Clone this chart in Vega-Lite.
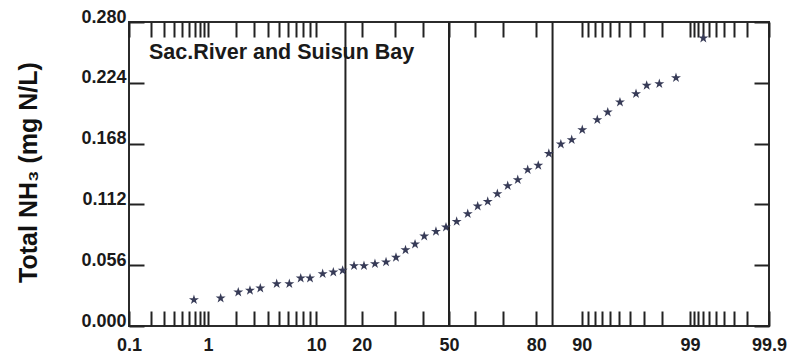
{
  "$schema": "https://vega.github.io/schema/vega-lite/v6.json",
  "width": 640,
  "height": 304,
  "autosize": {"type": "none"},
  "padding": {"left": 129, "top": 22, "right": 29, "bottom": 31},
  "background": "white",
  "config": {
    "view": {"stroke": "#2b2b2b", "strokeWidth": 2},
    "font": "Liberation Sans",
    "axis": {
      "grid": false,
      "domain": false,
      "labelFont": "Liberation Sans",
      "labelFontWeight": "bold",
      "labelFontSize": 18,
      "labelColor": "#1a1a1a",
      "tickColor": "#222222",
      "tickWidth": 2,
      "tickSize": -15,
      "labelFlush": false,
      "labelOverlap": false
    }
  },
  "datasets": {
    "samples": [
      {"z": -2.463, "nh3": 0.0246},
      {"z": -2.205, "nh3": 0.0261},
      {"z": -2.035, "nh3": 0.0316},
      {"z": -1.922, "nh3": 0.0332},
      {"z": -1.822, "nh3": 0.0353},
      {"z": -1.664, "nh3": 0.0393},
      {"z": -1.542, "nh3": 0.0393},
      {"z": -1.432, "nh3": 0.0445},
      {"z": -1.342, "nh3": 0.0445},
      {"z": -1.220, "nh3": 0.0485},
      {"z": -1.117, "nh3": 0.0500},
      {"z": -1.027, "nh3": 0.0516},
      {"z": -0.917, "nh3": 0.0559},
      {"z": -0.821, "nh3": 0.0559},
      {"z": -0.715, "nh3": 0.0577},
      {"z": -0.608, "nh3": 0.0594},
      {"z": -0.512, "nh3": 0.0636},
      {"z": -0.420, "nh3": 0.0705},
      {"z": -0.328, "nh3": 0.0758},
      {"z": -0.239, "nh3": 0.0832},
      {"z": -0.126, "nh3": 0.0875},
      {"z": -0.029, "nh3": 0.0915},
      {"z": 0.074, "nh3": 0.0967},
      {"z": 0.181, "nh3": 0.1038},
      {"z": 0.277, "nh3": 0.1108},
      {"z": 0.374, "nh3": 0.1151},
      {"z": 0.467, "nh3": 0.1222},
      {"z": 0.567, "nh3": 0.1296},
      {"z": 0.664, "nh3": 0.1351},
      {"z": 0.760, "nh3": 0.1443},
      {"z": 0.862, "nh3": 0.1483},
      {"z": 0.964, "nh3": 0.1593},
      {"z": 1.080, "nh3": 0.1679},
      {"z": 1.185, "nh3": 0.1720},
      {"z": 1.287, "nh3": 0.1812},
      {"z": 1.432, "nh3": 0.1904},
      {"z": 1.533, "nh3": 0.1974},
      {"z": 1.651, "nh3": 0.2066},
      {"z": 1.806, "nh3": 0.2143},
      {"z": 1.909, "nh3": 0.2220},
      {"z": 2.031, "nh3": 0.2235},
      {"z": 2.192, "nh3": 0.2291},
      {"z": 2.456, "nh3": 0.2655}
    ],
    "sigma_lines": [
      {"percent": 15.87, "z": -1},
      {"percent": 50, "z": 0},
      {"percent": 84.13, "z": 1}
    ],
    "annotation": [
      {"label": "Sac.River and Suisun Bay"}
    ]
  },
  "layer": [
    {
      "data": {"name": "sigma_lines"},
      "mark": {"type": "rule", "color": "#222222", "strokeWidth": 2},
      "encoding": {
        "x": {
          "field": "z",
          "type": "quantitative",
          "scale": {"domain": [-3.0902, 3.0902], "nice": false, "zero": false},
          "axis": {
            "orient": "top",
            "title": null,
            "labels": false,
            "values": [-3.0902, -2.8782, -2.7478, -2.6521, -2.5758, -2.5121, -2.4573, -2.4089, -2.3656, -2.3263, -2.0537, -1.8808, -1.7507, -1.6449, -1.5548, -1.4758, -1.4051, -1.3408, -1.2816, -0.8416, -0.5244, -0.2533, 0, 0.2533, 0.5244, 0.8416, 1.2816, 1.3408, 1.4051, 1.4758, 1.5548, 1.6449, 1.7507, 1.8808, 2.0537, 2.3263, 2.3656, 2.4089, 2.4573, 2.5121, 2.5758, 2.6521, 2.7478, 2.8782, 3.0902]
          }
        }
      }
    },
    {
      "mark": {"type": "rule", "color": "#f01e23", "strokeWidth": 2},
      "encoding": {
        "y": {
          "datum": 0.055,
          "type": "quantitative",
          "scale": {"domain": [0, 0.28], "nice": false, "zero": false},
          "axis": {
            "orient": "right",
            "title": null,
            "labels": false,
            "values": [0, 0.056, 0.112, 0.168, 0.224, 0.28]
          }
        }
      }
    },
    {
      "data": {"name": "samples"},
      "mark": {
        "type": "point",
        "filled": true,
        "opacity": 1,
        "size": 110,
        "color": "#373b57",
        "shape": "M0,-0.905L0.2245,-0.214L0.951,-0.214L0.363,0.214L0.588,0.905L0,0.478L-0.588,0.905L-0.363,0.214L-0.951,-0.214L-0.2245,-0.214Z"
      },
      "encoding": {
        "x": {
          "field": "z",
          "type": "quantitative",
          "scale": {"domain": [-3.0902, 3.0902], "nice": false, "zero": false},
          "axis": {
            "orient": "bottom",
            "title": null,
            "labelPadding": 25,
            "labelBaseline": "top",
            "values": [-3.0902, -2.8782, -2.7478, -2.6521, -2.5758, -2.5121, -2.4573, -2.4089, -2.3656, -2.3263, -2.0537, -1.8808, -1.7507, -1.6449, -1.5548, -1.4758, -1.4051, -1.3408, -1.2816, -0.8416, -0.5244, -0.2533, 0, 0.2533, 0.5244, 0.8416, 1.2816, 1.3408, 1.4051, 1.4758, 1.5548, 1.6449, 1.7507, 1.8808, 2.0537, 2.3263, 2.3656, 2.4089, 2.4573, 2.5121, 2.5758, 2.6521, 2.7478, 2.8782, 3.0902],
            "labelExpr": "datum.value == -3.0902 ? '0.1' : datum.value == -2.3263 ? '1' : datum.value == -1.2816 ? '10' : datum.value == -0.8416 ? '20' : datum.value == 0 ? '50' : datum.value == 0.8416 ? '80' : datum.value == 1.2816 ? '90' : datum.value == 2.3263 ? '99' : datum.value == 3.0902 ? '99.9' : ''"
          }
        },
        "y": {
          "field": "nh3",
          "type": "quantitative",
          "scale": {"domain": [0, 0.28], "nice": false, "zero": false},
          "axis": {
            "orient": "left",
            "title": "Total NH₃ (mg N/L)",
            "titleFont": "Liberation Sans",
            "titleFontSize": 25,
            "titleFontWeight": "bold",
            "titleColor": "#111111",
            "titleX": -93,
            "titleY": 150,
            "titleBaseline": "alphabetic",
            "titleAngle": 270,
            "titleAlign": "center",
            "labelPadding": 18,
            "labelBaseline": "alphabetic",
            "format": ".3f",
            "values": [0, 0.056, 0.112, 0.168, 0.224, 0.28]
          }
        }
      }
    },
    {
      "data": {"name": "annotation"},
      "mark": {
        "type": "text",
        "font": "Liberation Sans",
        "fontSize": 21.5,
        "fontWeight": "bold",
        "color": "#1a1a1a",
        "align": "left",
        "baseline": "alphabetic"
      },
      "encoding": {
        "text": {"field": "label", "type": "nominal"},
        "x": {"datum": -2.897, "type": "quantitative", "scale": {"domain": [-3.0902, 3.0902], "nice": false, "zero": false}, "axis": null},
        "y": {"datum": 0.2459, "type": "quantitative", "scale": {"domain": [0, 0.28], "nice": false, "zero": false}, "axis": null}
      }
    }
  ],
  "resolve": {"axis": {"x": "independent", "y": "independent"}}
}
